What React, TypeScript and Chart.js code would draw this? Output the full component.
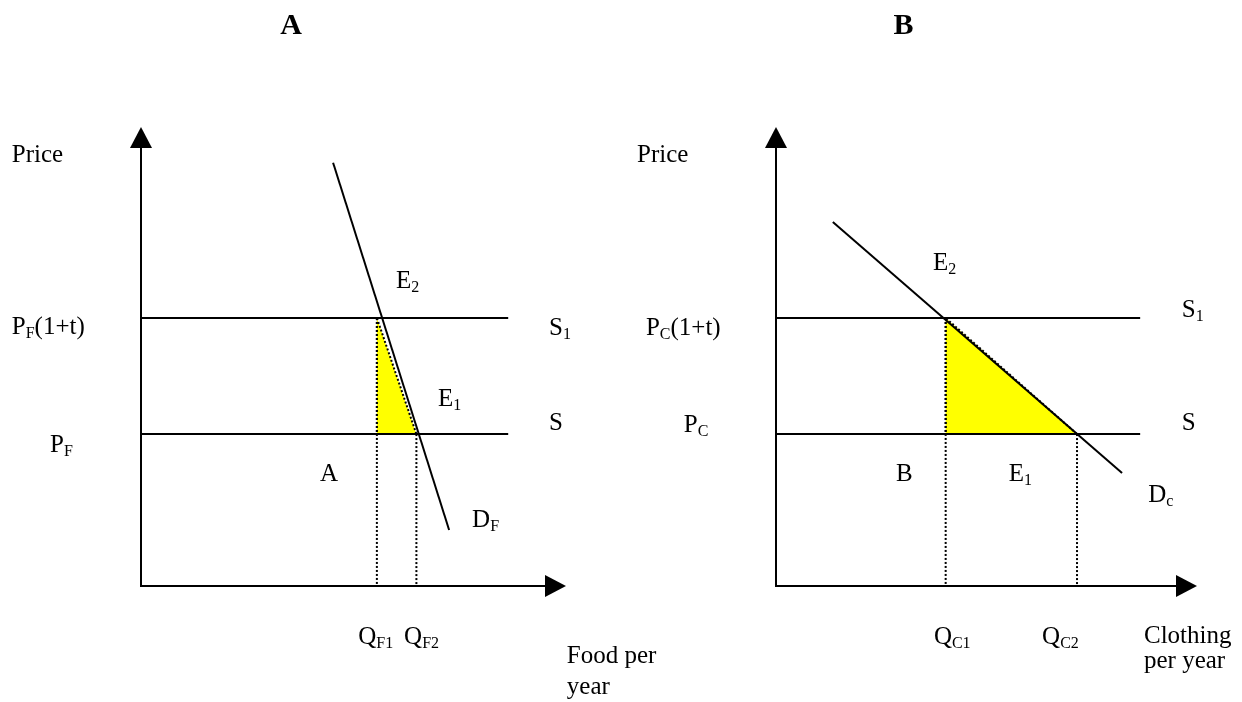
import React, { useEffect, useRef } from "react";
import { Chart, registerables } from "chart.js";

Chart.register(...registerables);

// ---------- Panel A: food market (quantity 0-10, price 0-10) ----------
const foodPriceTax = 5.84; // P_F(1+t)
const foodPrice = 3.31; // P_F
const foodSupplyEnd = 8.64;
const foodDemandX = [4.52, 7.25];
const foodDemandY = [9.22, 1.22];
const foodQ1 = 5.55;
const foodQ2 = 6.48;

// ---------- Panel B: clothing market ----------
const clothPriceTax = 5.84; // P_C(1+t)
const clothPrice = 3.31; // P_C
const clothSupplyEnd = 8.65;
const clothDemandX = [1.35, 8.22];
const clothDemandY = [7.93, 2.46];
const clothQ1 = 4.03;
const clothQ2 = 7.15;

// ---------- text labels (data coordinates) ----------
type Lbl = { text: string; x: number; y: number; align?: "left" | "center"; bold?: boolean; size?: number };

const foodLabels: Lbl[] = [
  { text: "A", x: 3.53, y: 12.03, align: "center", bold: true, size: 30 },
  { text: "Price", x: -3.04, y: 9.24 },
  { text: "P_{F}(1+t)", x: -3.04, y: 5.49 },
  { text: "P_{F}", x: -2.14, y: 2.92 },
  { text: "E_{2}", x: 6.0, y: 6.49 },
  { text: "S_{1}", x: 9.6, y: 5.47 },
  { text: "E_{1}", x: 6.99, y: 3.92 },
  { text: "S", x: 9.6, y: 3.4 },
  { text: "A", x: 4.21, y: 2.29 },
  { text: "D_{F}", x: 7.79, y: 1.29 },
  { text: "Q_{F1}", x: 5.11, y: -1.26 },
  { text: "Q_{F2}", x: 6.19, y: -1.26 },
  { text: "Food per", x: 10.02, y: -1.68 },
  { text: "year", x: 10.02, y: -2.35 },
];

const clothLabels: Lbl[] = [
  { text: "B", x: 3.03, y: 12.03, align: "center", bold: true, size: 30 },
  { text: "Price", x: -3.3, y: 9.24 },
  { text: "P_{C}(1+t)", x: -3.09, y: 5.47 },
  { text: "P_{C}", x: -2.19, y: 3.36 },
  { text: "E_{2}", x: 3.73, y: 6.88 },
  { text: "S_{1}", x: 9.64, y: 5.86 },
  { text: "S", x: 9.64, y: 3.4 },
  { text: "B", x: 2.85, y: 2.29 },
  { text: "E_{1}", x: 5.53, y: 2.29 },
  { text: "D_{c}", x: 8.84, y: 1.83 },
  { text: "Q_{C1}", x: 3.75, y: -1.26 },
  { text: "Q_{C2}", x: 6.32, y: -1.26 },
  { text: "Clothing", x: 8.74, y: -1.24 },
  { text: "per year", x: 8.74, y: -1.79 },
];

const FONT = '"Liberation Serif", "Times New Roman", serif';

function parseParts(s: string) {
  const parts: { t: string; sub: boolean }[] = [];
  const re = /_\{([^}]*)\}/g;
  let last = 0;
  let m: RegExpExecArray | null;
  while ((m = re.exec(s))) {
    if (m.index > last) parts.push({ t: s.slice(last, m.index), sub: false });
    parts.push({ t: m[1], sub: true });
    last = m.index + m[0].length;
  }
  if (last < s.length) parts.push({ t: s.slice(last), sub: false });
  return parts;
}

const labelPlugin = {
  id: "econLabels",
  afterDraw(chart: any, _args: any, opts: any) {
    const { ctx } = chart;
    const xs = chart.scales.x;
    const ys = chart.scales.y;
    ctx.save();
    ctx.fillStyle = "#000";
    ctx.textBaseline = "alphabetic";
    ctx.textAlign = "left";
    for (const item of opts.items as Lbl[]) {
      const size = item.size ?? 25;
      const subSize = Math.round(size * 0.62);
      const weight = item.bold ? "bold " : "";
      const px = xs.getPixelForValue(item.x);
      const py = ys.getPixelForValue(item.y);
      const parts = parseParts(item.text);
      let total = 0;
      for (const p of parts) {
        ctx.font = `${weight}${p.sub ? subSize : size}px ${FONT}`;
        total += ctx.measureText(p.t).width;
      }
      let cx = item.align === "center" ? px - total / 2 : px;
      for (const p of parts) {
        ctx.font = `${weight}${p.sub ? subSize : size}px ${FONT}`;
        ctx.fillText(p.t, cx, py + (p.sub ? 4 : 0));
        cx += ctx.measureText(p.t).width;
      }
    }
    ctx.restore();
  },
};

const axesPlugin = {
  id: "econAxes",
  afterDatasetsDraw(chart: any) {
    const { ctx, chartArea } = chart;
    const { left, right, top, bottom } = chartArea;
    const head = 21;
    const half = 11;
    ctx.save();
    ctx.strokeStyle = "#000";
    ctx.fillStyle = "#000";
    ctx.lineWidth = 2;
    ctx.beginPath();
    ctx.moveTo(left, top + head);
    ctx.lineTo(left, bottom);
    ctx.lineTo(right - head, bottom);
    ctx.stroke();
    ctx.beginPath();
    ctx.moveTo(left, top);
    ctx.lineTo(left - half, top + head);
    ctx.lineTo(left + half, top + head);
    ctx.closePath();
    ctx.fill();
    ctx.beginPath();
    ctx.moveTo(right, bottom);
    ctx.lineTo(right - head, bottom - half);
    ctx.lineTo(right - head, bottom + half);
    ctx.closePath();
    ctx.fill();
    ctx.restore();
  },
};

type Panel = {
  pTax: number;
  p: number;
  supplyEnd: number;
  dx: number[];
  dy: number[];
  q1: number;
  q2: number;
  labels: Lbl[];
  padding: { left: number; right: number; top: number; bottom: number };
};

function buildConfig(pn: Panel): any {
  const line = (pts: { x: number; y: number }[], extra: any = {}) => ({
    data: pts,
    showLine: true,
    pointRadius: 0,
    borderColor: "#000",
    borderWidth: 2,
    fill: false,
    tension: 0,
    order: 1,
    ...extra,
  });
  const dotted = { borderWidth: 2, borderDash: [2, 2] };
  return {
    type: "scatter",
    data: {
      datasets: [
        line(
          [
            { x: pn.q1, y: pn.pTax },
            { x: pn.q1, y: pn.p },
            { x: pn.q2, y: pn.p },
            { x: pn.q1, y: pn.pTax },
          ],
          { ...dotted, fill: "shape", backgroundColor: "#ffff00", order: 5 }
        ),
        line([{ x: pn.q1, y: pn.pTax }, { x: pn.q1, y: 0 }], { ...dotted, order: 4 }),
        line([{ x: pn.q2, y: pn.p }, { x: pn.q2, y: 0 }], { ...dotted, order: 4 }),
        line([{ x: 0, y: pn.pTax }, { x: pn.supplyEnd, y: pn.pTax }]),
        line([{ x: 0, y: pn.p }, { x: pn.supplyEnd, y: pn.p }]),
        line([
          { x: pn.dx[0], y: pn.dy[0] },
          { x: pn.dx[1], y: pn.dy[1] },
        ]),
      ],
    },
    options: {
      responsive: false,
      animation: false,
      events: [],
      layout: { padding: pn.padding },
      scales: {
        x: { type: "linear", min: 0, max: 10, display: false },
        y: { type: "linear", min: 0, max: 10, display: false },
      },
      plugins: {
        legend: { display: false },
        tooltip: { enabled: false },
        econLabels: { items: pn.labels },
      },
    },
    plugins: [axesPlugin, labelPlugin],
  };
}

function PanelChart({ panel, left, width }: { panel: Panel; left: number; width: number }) {
  const ref = useRef<HTMLCanvasElement | null>(null);
  useEffect(() => {
    if (!ref.current) return;
    const chart = new Chart(ref.current, buildConfig(panel));
    return () => chart.destroy();
  }, [panel]);
  return (
    <canvas
      ref={ref}
      width={width}
      height={702}
      style={{ position: "absolute", left, top: 0, width, height: 702 }}
    />
  );
}

const panelA: Panel = {
  pTax: foodPriceTax,
  p: foodPrice,
  supplyEnd: foodSupplyEnd,
  dx: foodDemandX,
  dy: foodDemandY,
  q1: foodQ1,
  q2: foodQ2,
  labels: foodLabels,
  padding: { left: 141, right: 680 - 566, top: 127, bottom: 702 - 586 },
};

const panelB: Panel = {
  pTax: clothPriceTax,
  p: clothPrice,
  supplyEnd: clothSupplyEnd,
  dx: clothDemandX,
  dy: clothDemandY,
  q1: clothQ1,
  q2: clothQ2,
  labels: clothLabels,
  padding: { left: 776 - 621, right: 1242 - 1197, top: 127, bottom: 702 - 586 },
};

export default function App() {
  return (
    <div style={{ position: "absolute", left: 0, top: 0, width: 1242, height: 702, background: "#fff", overflow: "hidden" }}>
      <PanelChart panel={panelA} left={0} width={680} />
      <PanelChart panel={panelB} left={621} width={621} />
    </div>
  );
}
